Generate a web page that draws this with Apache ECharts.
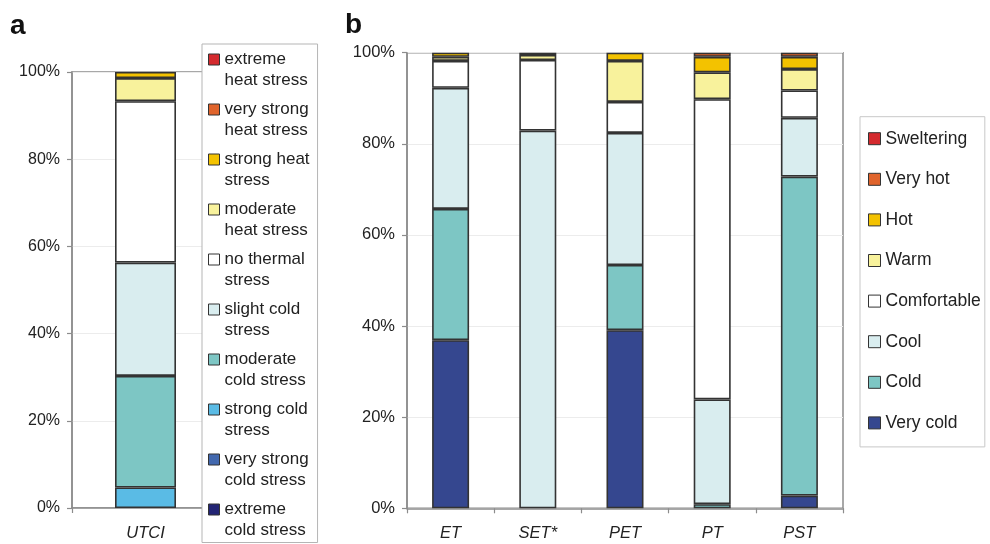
<!DOCTYPE html>
<html>
<head>
<meta charset="utf-8">
<script src="https://cdn.jsdelivr.net/npm/echarts@6/dist/echarts.min.js"></script>
<style>html,body{margin:0;padding:0;background:#fff}#c{width:990px;height:544px}</style>
</head>
<body>
<div id="c"></div>
<script>
// ---- Panel a (UTCI) ----
const utciCategories = ['UTCI'];
const utciClasses = ['extreme cold stress','very strong cold stress','strong cold stress','moderate cold stress','slight cold stress','no thermal stress','moderate heat stress','strong heat stress','very strong heat stress','extreme heat stress'];
const utciLegendLabels = ['extreme\ncold stress','very strong\ncold stress','strong cold\nstress','moderate\ncold stress','slight cold\nstress','no thermal\nstress','moderate\nheat stress','strong heat\nstress','very strong\nheat stress','extreme\nheat stress'];
const utciValues = [0, 0, 4.7, 25.6, 26.0, 37.0, 5.3, 1.4, 0, 0];
const utciColors = ['#222474','#4268AE','#5ABBE5','#7DC6C4','#D9EDEF','#FFFFFF','#F8F29C','#F3C200','#E0642C','#D42A2E'];

// ---- Panel b ----
const bCategories = ['ET','SET*','PET','PT','PST'];
const bClasses = ['Very cold','Cold','Cool','Comfortable','Warm','Hot','Very hot','Sweltering'];
const veryCold    = [36.9, 0,    39.1, 0,    2.8];
const cold        = [28.8, 0,    14.3, 0.9,  70.0];
const cool        = [26.6, 82.9, 29.0, 23.0, 12.9];
const comfortable = [5.9,  15.5, 6.8,  65.9, 6.0];
const warm        = [0.9,  1.1,  9.0,  5.9,  4.7];
const hot         = [0.9,  0.5,  1.8,  3.4,  2.7];
const veryHot     = [0,    0,    0,    0.9,  0.9];
const sweltering  = [0,    0,    0,    0,    0];
const bValues = [veryCold, cold, cool, comfortable, warm, hot, veryHot, sweltering];
const bColors = ['#35478F','#7DC6C4','#D9EDEF','#FFFFFF','#F8F29C','#F3C200','#E0642C','#D42A2E'];

const yTicks = [0, 20, 40, 60, 80, 100];

const FONT = "'Liberation Sans', Arial, sans-serif";
const TXT = '#222';
const AXIS = '#8c8c8c';
const EDGE = '#333';

// empty (zero-share) segments are not drawn, so they add no extra outline
const nz = v => (v === 0 ? '-' : v);

const chart = echarts.init(document.getElementById('c'), null, {renderer: 'canvas'});

const series = [];
utciClasses.forEach((name, i) => {
  series.push({
    name: name, type: 'bar', stack: 'a', xAxisIndex: 0, yAxisIndex: 0,
    barWidth: 61, data: [nz(utciValues[i])],
    itemStyle: {color: utciColors[i], borderColor: EDGE, borderWidth: 1.6},
    emphasis: {disabled: true}
  });
});
bClasses.forEach((name, i) => {
  series.push({
    name: name, type: 'bar', stack: 'b', xAxisIndex: 1, yAxisIndex: 1,
    barWidth: 37, data: bValues[i].map(nz),
    itemStyle: {color: bColors[i], borderColor: EDGE, borderWidth: 1.6},
    emphasis: {disabled: true}
  });
});

function yAxis(gridIndex, fs) {
  return {
    type: 'value', gridIndex: gridIndex, min: yTicks[0], max: yTicks[yTicks.length - 1], interval: 20,
    axisLine: {show: true, lineStyle: {color: AXIS, width: 1.5}},
    axisTick: {show: true, length: 5, lineStyle: {color: AXIS, width: 1.2}},
    axisLabel: {formatter: '{value}%', color: TXT, fontSize: fs, fontFamily: FONT, margin: 12},
    splitLine: {show: true, lineStyle: {color: '#ececec', width: 1}}
  };
}
function xAxis(gridIndex, cats) {
  return {
    type: 'category', gridIndex: gridIndex, data: cats,
    axisLine: {show: true, lineStyle: {color: AXIS, width: 1.5}},
    axisTick: {show: true, length: 5, alignWithLabel: false, lineStyle: {color: AXIS, width: 1.2}},
    axisLabel: {color: TXT, fontSize: 16.5, fontStyle: 'italic', fontFamily: FONT, margin: 17},
    splitLine: {show: false}
  };
}

const squareIcon = 'path://M0,0L11,0L11,11L0,11ZM0,31';

const option = {
  backgroundColor: '#fff',
  animation: false,
  title: [
    {text: 'a', left: 10, top: 12, padding: 0, textStyle: {fontSize: 28, fontWeight: 'bold', color: '#111', fontFamily: FONT}},
    {text: 'b', left: 345, top: 11, padding: 0, textStyle: {fontSize: 28, fontWeight: 'bold', color: '#111', fontFamily: FONT}}
  ],
  grid: [
    {left: 72, right: 771, top: 72, bottom: 36, show: true, borderColor: AXIS, borderWidth: 1.5, containLabel: false},
    {left: 407, right: 147, top: 52.7, bottom: 35.7, show: true, borderColor: AXIS, borderWidth: 1.5, containLabel: false}
  ],
  xAxis: [xAxis(0, utciCategories), xAxis(1, bCategories)],
  yAxis: [yAxis(0, 16), yAxis(1, 16.5)],
  legend: [
    {
      data: utciClasses.slice().reverse(),
      orient: 'vertical', left: 202, top: 44,
      padding: [4.5, 8, 2, 6], itemGap: 8,
      itemWidth: 11, itemHeight: 31, icon: squareIcon,
      backgroundColor: '#fff', borderColor: '#b5b5b5', borderWidth: 1,
      itemStyle: {borderColor: EDGE, borderWidth: 1},
      selectedMode: false,
      formatter: function (name) { return utciLegendLabels[utciClasses.indexOf(name)]; },
      textStyle: {fontSize: 17, lineHeight: 21, color: TXT, fontFamily: FONT}
    },
    {
      data: bClasses.slice().reverse(),
      orient: 'vertical', left: 860, top: 116.7,
      padding: [12, 4, 14, 8], itemGap: 20.6,
      itemWidth: 12, itemHeight: 12, icon: 'rect',
      backgroundColor: '#fff', borderColor: '#c8c8c8', borderWidth: 1,
      itemStyle: {borderColor: EDGE, borderWidth: 1},
      selectedMode: false,
      textStyle: {fontSize: 17.5, lineHeight: 20, color: TXT, fontFamily: FONT}
    }
  ],
  series: series
};
chart.setOption(option);
</script>
</body>
</html>
